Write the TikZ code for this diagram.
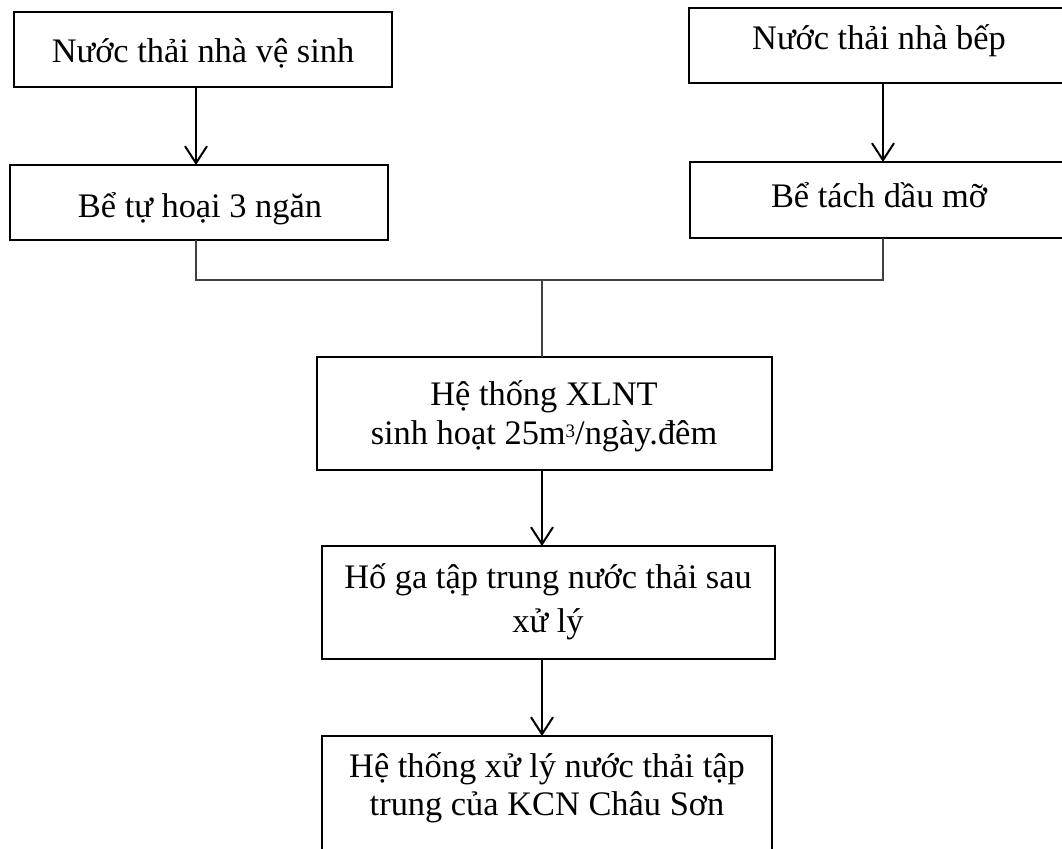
\documentclass[tikz,border=0pt]{standalone}
\usepackage{fontspec}
\setmainfont{Liberation Serif}
\usetikzlibrary{arrows.meta}
\newcommand{\cubesup}{\raisebox{7pt}{\fontsize{19}{19}\selectfont 3}}
\begin{document}
\begin{tikzpicture}[x=1pt,y=-1pt,
  box/.style={draw=black, line width=2.8pt, rectangle, inner sep=0pt, outer sep=0pt, anchor=north west},
  lbl/.style={inner sep=0pt, anchor=base, font=\fontsize{34.4}{40}\selectfont},
  arr/.style={draw=black, line width=2pt, -{Straight Barb[length=17pt,width=22pt,line width=2pt]}},
  link/.style={draw=black!75, line width=1.3pt}]
\useasboundingbox (0,0) rectangle (1062,848);
\clip (0,0) rectangle (1062,848);

% boxes
\node[box, minimum width=378pt, minimum height=75pt] (b1) at (14,12) {};
\node[box, minimum width=378pt, minimum height=75pt] (b2) at (689,8) {};
\node[box, minimum width=378pt, minimum height=75pt] (b3) at (10,165) {};
\node[box, minimum width=378pt, minimum height=76pt] (b4) at (690,162) {};
\node[box, minimum width=455pt, minimum height=113pt] (b5) at (317,357) {};
\node[box, minimum width=453pt, minimum height=113pt] (b6) at (322,546) {};
\node[box, minimum width=450pt, minimum height=130pt] (b7) at (322,736) {};

% labels
\node[lbl] (t1) at (203,63) {Nước thải nhà vệ sinh};
\node[lbl] (t2) at (879,50) {Nước thải nhà bếp};
\node[lbl] (t3) at (200,217) {Bể tự hoại 3 ngăn};
\node[lbl] (t4) at (879,207) {Bể tách dầu mỡ};
\node[lbl] (t5a) at (544,405) {Hệ thống XLNT};
\node[lbl] (t5b) at (544,444) {sinh hoạt 25m\cubesup/ngày.đêm};
\node[lbl] (t6a) at (548,588) {Hố ga tập trung nước thải sau};
\node[lbl] (t6b) at (548,632) {xử lý};
\node[lbl] (t7a) at (547,777) {Hệ thống xử lý nước thải tập};
\node[lbl] (t7b) at (547,815) {trung của KCN Châu Sơn};

% connector lanes
\coordinate (xl) at (196,0);
\coordinate (xr) at (883,0);
\coordinate (xm) at (542,0);
\coordinate (jl) at (196,280);
\coordinate (jr) at (883,280);
\coordinate (jm) at (542,280);

% arrows and merge
\draw[arr] (b1.south -| xl) -- (b3.north -| xl);
\draw[arr] (b2.south -| xr) -- (b4.north -| xr);
\draw[link] (b3.south -| xl) -- (jl) -- (jr) -- (b4.south -| xr);
\draw[link] (jm) -- (b5.north -| xm);
\draw[arr] (b5.south -| xm) -- (b6.north -| xm);
\draw[arr] (b6.south -| xm) -- (b7.north -| xm);
\end{tikzpicture}
\end{document}
